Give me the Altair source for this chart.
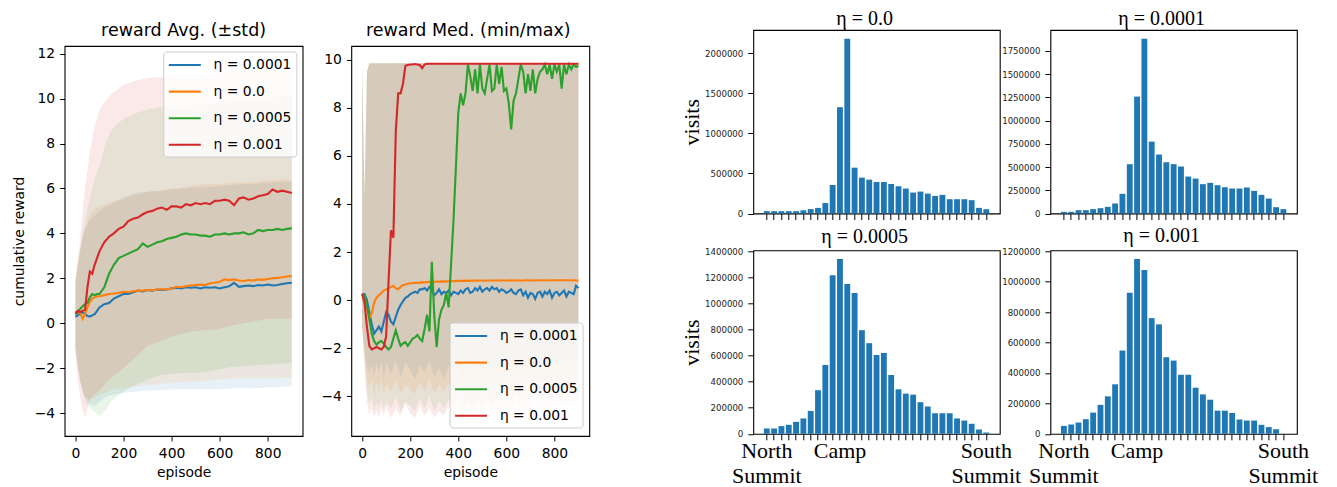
import altair as alt
import pandas as pd

SERIES = ["η = 0.0001", "η = 0.0", "η = 0.0005", "η = 0.001"]
COLORS = ["#1f77b4", "#ff7f0e", "#2ca02c", "#d62728"]

# ---------------- left panel: average (+/- std) ----------------
avg_ep = [0, 10, 20, 30, 40, 50, 60, 70, 80, 90, 100, 120, 140, 160, 180, 200, 220, 240, 260, 280,
          300, 320, 340, 360, 380, 400, 420, 440, 460, 480, 500, 520, 540, 560, 580, 600, 620, 640,
          660, 680, 700, 720, 740, 760, 780, 800, 820, 840, 860, 880, 900]
avg_blue = [0.28, 0.35, 0.45, 0.48, 0.42, 0.32, 0.30, 0.35, 0.40, 0.55, 0.70, 0.85, 0.90, 1.10, 1.20,
            1.30, 1.30, 1.38, 1.45, 1.42, 1.48, 1.45, 1.50, 1.48, 1.50, 1.55, 1.58, 1.55, 1.60, 1.58,
            1.60, 1.55, 1.60, 1.58, 1.60, 1.55, 1.60, 1.65, 1.80, 1.62, 1.65, 1.68, 1.65, 1.70, 1.68,
            1.72, 1.68, 1.70, 1.75, 1.78, 1.80]
avg_orange = [0.40, 0.50, 0.45, 0.20, 0.40, 0.70, 0.95, 1.10, 1.15, 1.20, 1.20, 1.25, 1.30, 1.32, 1.35,
              1.40, 1.38, 1.42, 1.45, 1.45, 1.48, 1.47, 1.50, 1.52, 1.50, 1.55, 1.62, 1.60, 1.65, 1.68,
              1.70, 1.72, 1.70, 1.78, 1.80, 1.85, 1.95, 1.92, 1.95, 1.90, 1.88, 1.92, 1.90, 1.95, 1.93,
              1.97, 2.00, 2.02, 2.05, 2.08, 2.10]
avg_green = [0.40, 0.50, 0.65, 0.75, 0.85, 0.90, 1.15, 1.30, 1.25, 1.30, 1.30, 1.60, 2.20, 2.60, 2.90,
             3.00, 3.10, 3.20, 3.30, 3.55, 3.40, 3.50, 3.60, 3.65, 3.75, 3.80, 3.85, 3.95, 4.00, 3.95,
             3.95, 3.90, 3.90, 3.85, 3.95, 3.95, 4.00, 3.95, 4.00, 4.00, 4.05, 3.95, 4.00, 4.15, 4.10,
             4.15, 4.15, 4.20, 4.15, 4.20, 4.22]
avg_red = [0.45, 0.55, 0.50, 0.55, 0.60, 1.60, 2.30, 2.20, 2.60, 2.90, 3.20, 3.60, 3.85, 4.00, 4.20,
           4.30, 4.55, 4.65, 4.70, 4.85, 4.95, 5.00, 5.10, 5.15, 5.05, 5.20, 5.20, 5.15, 5.30, 5.25,
           5.35, 5.30, 5.35, 5.30, 5.45, 5.45, 5.50, 5.45, 5.25, 5.55, 5.60, 5.50, 5.55, 5.65, 5.70,
           5.75, 5.95, 5.85, 5.90, 5.85, 5.80]

band_ep = [0, 10, 20, 30, 40, 60, 80, 100, 125, 150, 200, 250, 300, 350, 400, 450, 500, 550, 600,
           650, 700, 750, 800, 850, 900]
blue_hi = [1.8, 2.6, 3.3, 3.8, 4.2, 4.6, 4.8, 5.0, 5.2, 5.3, 5.6, 5.8, 5.85, 5.9, 5.95, 6.0, 6.05,
           6.05, 6.1, 6.15, 6.2, 6.2, 6.25, 6.3, 6.3]
blue_lo = [-1.2, -2.0, -2.6, -3.0, -3.3, -3.6, -3.7, -3.5, -3.3, -3.2, -3.1, -3.05, -3.0, -3.0, -2.95,
           -2.95, -2.95, -2.95, -2.95, -2.9, -2.9, -2.9, -2.85, -2.85, -2.8]
orange_hi = [2.0, 2.8, 3.3, 3.8, 4.2, 4.8, 5.1, 5.2, 5.3, 5.4, 5.55, 5.7, 5.85, 5.9, 6.0, 6.05, 6.15,
             6.2, 6.2, 6.25, 6.25, 6.3, 6.35, 6.4, 6.4]
orange_lo = [-1.2, -2.0, -2.6, -3.0, -3.3, -3.4, -3.3, -3.2, -3.1, -2.95, -2.9, -2.8, -2.75, -2.7,
             -2.65, -2.6, -2.6, -2.55, -2.5, -2.45, -2.45, -2.45, -2.45, -2.45, -2.44]
green_hi = [1.8, 2.5, 3.2, 4.0, 4.6, 5.6, 6.4, 7.0, 8.0, 8.6, 9.1, 9.35, 9.5, 9.6, 9.65, 9.65, 9.7,
            9.75, 9.85, 9.9, 9.95, 10.0, 10.05, 10.1, 10.2]
green_lo = [-1.0, -1.8, -2.5, -3.0, -3.5, -3.8, -3.95, -4.15, -3.9, -3.45, -3.05, -2.75, -2.5, -2.3,
            -2.25, -2.2, -2.2, -2.15, -2.05, -1.95, -1.92, -1.87, -1.83, -1.8, -1.77]
red_hi = [1.8, 2.8, 3.8, 5.0, 6.0, 7.6, 8.8, 9.5, 9.9, 10.2, 10.6, 10.8, 10.9, 10.95, 11.0, 11.0,
          11.05, 11.1, 11.15, 11.2, 11.2, 11.25, 11.3, 11.35, 11.4]
red_lo = [-1.2, -2.5, -3.3, -3.9, -4.2, -3.4, -3.2, -3.0, -2.7, -2.4, -2.0, -1.5, -1.0, -0.8, -0.6,
          -0.45, -0.35, -0.3, -0.25, -0.1, 0.0, 0.1, 0.2, 0.2, 0.2]

# ---------------- middle panel: median (min/max) ----------------
med_ep = [0, 10, 20, 30, 40, 50, 60, 70, 80, 90, 100, 110, 120, 130, 140, 150, 160, 170, 180, 190,
          200, 210, 220, 230, 240, 250, 260, 270, 280, 290, 300, 310, 320, 330, 340, 350, 360, 370,
          380, 390, 400, 410, 420, 430, 440, 450, 460, 470, 480, 490, 500, 510, 520, 530, 540, 550,
          560, 570, 580, 590, 600, 610, 620, 630, 640, 650, 660, 670, 680, 690, 700, 710, 720, 730,
          740, 750, 760, 770, 780, 790, 800, 810, 820, 830, 840, 850, 860, 870, 880, 890, 900]
med_blue = [0.25, 0.25, 0.0, -0.5, -1.0, -1.4, -1.25, -1.1, -1.3, -0.9, -0.5, -0.6, -0.9, -1.0, -0.7,
            -0.4, -0.2, -0.05, 0.1, 0.15, 0.25, 0.3, 0.35, 0.3, 0.45, 0.45, 0.5, 0.4, 0.55, 0.45,
            0.2, 0.3, 0.45, 0.25, 0.35, 0.3, 0.4, 0.2, 0.35, 0.3, 0.25, 0.4, 0.3, 0.45, 0.5, 0.3,
            0.35, 0.5, 0.4, 0.55, 0.35, 0.45, 0.5, 0.4, 0.55, 0.45, 0.5, 0.35, 0.45, 0.4, 0.3, 0.35,
            0.45, 0.3, 0.25, 0.4, 0.45, 0.2, 0.35, 0.1, 0.3, 0.25, 0.05, 0.3, 0.35, 0.15, 0.35, 0.25,
            0.4, 0.1, 0.3, 0.35, 0.2, 0.3, 0.4, 0.15, 0.35, 0.3, 0.25, 0.6, 0.5]
med_orange = [0.25, 0.1, -0.3, -0.75, -0.55, -0.1, 0.1, 0.2, 0.3, 0.4, 0.45, 0.5, 0.55, 0.6, 0.5,
              0.45, 0.55, 0.62, 0.65, 0.68, 0.7, 0.7, 0.72, 0.72, 0.73, 0.75, 0.74, 0.75, 0.76, 0.75,
              0.76, 0.77, 0.77, 0.78, 0.77, 0.78, 0.78, 0.79, 0.79, 0.79, 0.8, 0.8, 0.8, 0.8, 0.81,
              0.8, 0.81, 0.81, 0.81, 0.82, 0.82, 0.81, 0.82, 0.82, 0.82, 0.82, 0.82, 0.82, 0.83, 0.82,
              0.82, 0.82, 0.83, 0.82, 0.82, 0.83, 0.82, 0.82, 0.83, 0.83, 0.82, 0.83, 0.82, 0.83,
              0.83, 0.83, 0.82, 0.83, 0.83, 0.83, 0.83, 0.83, 0.83, 0.83, 0.83, 0.83, 0.83, 0.83,
              0.83, 0.82, 0.82]
med_green = [0.25, 0.2, -0.2, -0.8, -1.4, -1.7, -1.85, -1.75, -1.7, -1.8, -1.95, -2.05, -1.95, -1.6,
             -1.25, -1.6, -1.9, -1.8, -1.75, -1.9, -1.75, -1.6, -1.55, -1.45, -1.6, -1.7, -1.2, -0.6,
             -1.3, 1.6, -0.6, -1.95, -0.8, -0.4, -0.2, 0.3, -0.3, 1.5, 3.3, 5.5, 7.8, 8.6, 8.1, 8.6,
             9.8, 9.3, 8.7, 9.6, 8.6, 9.8, 8.8, 8.6, 9.2, 9.8, 8.7, 8.8, 9.8, 9.0, 9.7, 8.7, 8.8, 8.2,
             7.1, 8.3, 8.6, 9.2, 9.8, 9.5, 8.6, 9.4, 8.7, 9.6, 8.6, 9.2, 9.5, 9.6, 9.8, 9.4, 9.8, 9.2,
             9.8, 9.5, 9.8, 8.8, 9.8, 9.4, 9.8, 9.6, 9.8, 9.7, 9.75]
med_red = [0.25, -0.1, -1.1, -1.9, -2.05, -2.0, -1.95, -2.0, -2.05, -1.95, -1.5, 0.8, 2.9, 2.6, 7.0,
           8.6, 8.6, 9.0, 9.75, 9.78, 9.8, 9.8, 9.82, 9.8, 9.78, 9.65, 9.8, 9.83, 9.83, 9.83, 9.83,
           9.83, 9.83, 9.83, 9.83, 9.83, 9.83, 9.83, 9.83, 9.83, 9.83, 9.83, 9.83, 9.83, 9.83, 9.83,
           9.83, 9.83, 9.83, 9.83, 9.83, 9.83, 9.83, 9.83, 9.83, 9.83, 9.83, 9.83, 9.83, 9.83, 9.83,
           9.83, 9.83, 9.83, 9.83, 9.83, 9.83, 9.83, 9.83, 9.83, 9.83, 9.83, 9.83, 9.83, 9.83, 9.83,
           9.83, 9.83, 9.83, 9.83, 9.83, 9.83, 9.83, 9.83, 9.83, 9.83, 9.83, 9.83, 9.83, 9.83, 9.83]

mm_ep = [0, 10, 20, 30, 40, 50, 60, 70, 80, 90, 100, 120, 140, 160, 180, 200, 220, 240, 260, 280,
         300, 320, 340, 360, 380, 400, 420, 440, 460, 480, 500, 520, 540, 560, 580, 600, 620, 640,
         660, 680, 700, 720, 740, 760, 780, 800, 820, 840, 860, 880, 900]
mm_max = [9.7, 4.3, 9.5, 9.85, 9.85, 9.85, 9.85, 9.85, 9.85, 9.85, 9.85, 9.85, 9.85, 9.85, 9.85,
          9.85, 9.85, 9.85, 9.85, 9.85, 9.85, 9.85, 9.85, 9.85, 9.85, 9.85, 9.85, 9.85, 9.85, 9.85,
          9.85, 9.85, 9.85, 9.85, 9.85, 9.85, 9.85, 9.85, 9.85, 9.85, 9.85, 9.85, 9.85, 9.85, 9.85,
          9.85, 9.85, 9.85, 9.85, 9.85, 9.85]
min_blue = [-1.1, -2.0, -2.8, -3.0, -2.7, -3.2, -2.6, -3.0, -2.5, -3.3, -2.6, -3.1, -2.5, -3.2, -2.6,
            -2.9, -3.3, -2.7, -3.0, -2.5, -3.2, -2.8, -3.3, -2.7, -3.0, -2.6, -3.1, -2.8, -3.0, -2.7,
            -2.9, -2.6, -3.0, -2.7, -2.9, -2.6, -2.8, -2.5, -2.9, -2.6, -2.8, -2.5, -2.7, -2.6, -2.8,
            -2.5, -2.7, -2.4, -2.6, -2.5, -2.6]
min_orange = [-1.1, -2.3, -3.3, -3.6, -3.2, -3.9, -3.4, -3.8, -3.3, -3.9, -3.5, -3.8, -3.3, -3.9,
              -3.5, -3.7, -3.9, -3.4, -3.8, -3.3, -3.9, -3.5, -3.8, -3.4, -3.7, -3.3, -3.8, -3.5,
              -3.7, -3.4, -3.6, -3.3, -3.7, -3.4, -3.6, -3.3, -3.5, -3.2, -3.6, -3.3, -3.5, -3.2,
              -3.4, -3.3, -3.5, -3.2, -3.4, -3.1, -3.3, -3.2, -3.3]
min_green = [-1.1, -2.5, -3.8, -4.3, -4.0, -4.6, -4.2, -4.5, -4.1, -4.6, -4.2, -4.5, -4.0, -4.6, -4.2,
             -4.4, -4.6, -4.1, -4.5, -4.0, -4.6, -4.2, -4.5, -4.1, -4.4, -4.0, -4.5, -4.2, -4.4, -4.1,
             -4.3, -4.0, -4.4, -4.1, -4.3, -4.0, -4.2, -3.9, -4.3, -4.0, -4.2, -3.9, -4.1, -4.0, -4.2,
             -3.9, -4.1, -3.8, -4.0, -3.9, -4.0]
min_red = [-1.1, -2.8, -4.2, -4.8, -4.5, -4.9, -4.6, -4.9, -4.5, -4.8, -4.4, -4.9, -4.5, -4.8, -4.3,
           -4.7, -4.9, -4.4, -4.8, -4.5, -4.9, -4.6, -4.8, -4.4, -4.9, -4.5, -4.8, -4.6, -4.8, -4.5,
           -4.7, -4.4, -4.8, -4.5, -4.7, -4.4, -4.6, -4.3, -4.7, -4.4, -4.6, -4.3, -4.5, -4.4, -4.6,
           -4.3, -4.5, -4.2, -4.4, -4.3, -4.4]

# ---------------- histograms of visits ----------------
hist_pos = [0, 1, 2, 3, 4, 5, 6, 7, 8, 9, 10, 11, 12, 13, 14, 15, 16, 17, 18, 19, 20, 21, 22, 23, 24,
            25, 26, 27, 28, 29, 30]
hist_00 = [29000, 29000, 29000, 29000, 29000, 40000, 55000, 70000, 130000, 355000, 1325000, 2178000,
           571000, 447000, 422000, 393000, 393000, 368000, 340000, 311000, 261000, 273000, 248000,
           219000, 232000, 178000, 178000, 178000, 166000, 70000, 54000]
hist_0001 = [18000, 18000, 36000, 36000, 47000, 57000, 72000, 108000, 212000, 531000, 1259000, 1882000,
             774000, 635000, 552000, 531000, 506000, 398000, 376000, 316000, 330000, 305000, 283000,
             269000, 269000, 280000, 244000, 201000, 161000, 68000, 47000]
hist_0005 = [41000, 41000, 59000, 69000, 92000, 118000, 176000, 335000, 529000, 1219000, 1344000,
             1152000, 1083000, 797000, 697000, 606000, 621000, 452000, 342000, 309000, 301000, 243000,
             210000, 158000, 158000, 158000, 118000, 102000, 77000, 33000, 10000]
hist_001 = [52000, 61000, 74000, 96000, 139000, 190000, 246000, 325000, 547000, 926000, 1148000,
            1076000, 760000, 719000, 503000, 481000, 388000, 388000, 303000, 259000, 224000, 152000,
            152000, 137000, 94000, 87000, 87000, 59000, 44000, 30000, 0]
hist_titles = ["η = 0.0", "η = 0.0001", "η = 0.0005", "η = 0.001"]
ticks_00 = [0, 500000, 1000000, 1500000, 2000000]
ticks_0001 = [0, 250000, 500000, 750000, 1000000, 1250000, 1500000, 1750000]
ticks_0005 = [0, 200000, 400000, 600000, 800000, 1000000, 1200000, 1400000]
ticks_001 = [0, 200000, 400000, 600000, 800000, 1000000, 1200000]
place_labels = {0: ["North", "Summit"], 10: ["Camp"], 30: ["South", "Summit"]}

# ---------------- build frames ----------------
def long_lines(xs, lists):
    rows = []
    for name, vals in zip(SERIES, lists):
        for x, v in zip(xs, vals):
            rows.append({"episode": x, "value": v, "series": name})
    return pd.DataFrame(rows)


def long_bands(xs, lows, highs):
    rows = []
    for name, lo, hi in zip(SERIES, lows, highs):
        for x, a, b in zip(xs, lo, hi):
            rows.append({"episode": x, "lo": a, "hi": b, "series": name})
    return pd.DataFrame(rows)


avg_lines = long_lines(avg_ep, [avg_blue, avg_orange, avg_green, avg_red])
avg_bands = long_bands(band_ep, [blue_lo, orange_lo, green_lo, red_lo],
                       [blue_hi, orange_hi, green_hi, red_hi])
med_lines = long_lines(med_ep, [med_blue, med_orange, med_green, med_red])
med_bands = long_bands(mm_ep, [min_blue, min_orange, min_green, min_red],
                       [mm_max, mm_max, mm_max, mm_max])

cscale = alt.Scale(domain=SERIES, range=COLORS)


def line_panel(title, dx, lines_df, bands_df, ydom, yvals, ytitle, lx, ly):
    xenc = alt.X("episode:Q", scale=alt.Scale(domain=[-45, 945], nice=False, zero=False),
                 axis=alt.Axis(values=[0, 200, 400, 600, 800], title="episode", grid=False,
                               domain=False, tickSize=4.9, tickColor="black", tickWidth=1,
                               labelFont="DejaVu Sans", labelFontSize=13.9, labelColor="black",
                               labelPadding=6, titleFont="DejaVu Sans", titleFontSize=13.9,
                               titleFontWeight="normal", titleColor="black", titlePadding=5))
    yscale = alt.Scale(domain=ydom, nice=False, zero=False)
    yaxis = alt.Axis(values=yvals, title=ytitle, grid=False, domain=False, tickSize=4.9,
                     tickColor="black", tickWidth=1, labelFont="DejaVu Sans", labelFontSize=13.9,
                     labelColor="black", labelPadding=5, titleFont="DejaVu Sans",
                     titleFontSize=13.9, titleFontWeight="normal", titleColor="black",
                     titlePadding=8)
    bands = [
        alt.Chart(bands_df).transform_filter(alt.datum.series == name)
        .mark_area(opacity=0.1, color=col)
        .encode(x=xenc, y=alt.Y("lo:Q", scale=yscale, axis=yaxis), y2="hi:Q")
        for name, col in zip(SERIES, COLORS)
    ]
    lines = alt.Chart(lines_df).mark_line(strokeWidth=2.1).encode(
        x=xenc,
        y=alt.Y("value:Q", scale=yscale, axis=yaxis),
        color=alt.Color("series:N", scale=cscale,
                        legend=alt.Legend(title=None, orient="none", legendX=lx, legendY=ly,
                                          symbolType="M-2,0H2", symbolSize=256, symbolOffset=8,
                                          symbolStrokeWidth=2.1, labelFont="DejaVu Sans",
                                          labelFontSize=13.9, labelColor="black", labelOffset=19.3,
                                          rowPadding=9.6, padding=4,
                                          fillColor="rgba(255,255,255,0.8)",
                                          strokeColor="#cccccc", cornerRadius=3)),
    )
    return alt.layer(*bands, lines).properties(
        width=238, height=390,
        title=alt.TitleParams(text=title, font="DejaVu Sans", fontSize=17.5, fontWeight="normal",
                              color="black", offset=7, frame="group", dx=dx),
    )


label_expr = " : ".join(
    f"datum.value == {k} ? [{', '.join(repr(s) for s in v)}]" for k, v in place_labels.items()
) + " : ''"
# one empty category on each side reproduces the wide outer margin of the bar axis
x_domain = [hist_pos[0] - 1] + hist_pos + [hist_pos[-1] + 1]


def hist_panel(vals, title, yvals, show_labels, show_ytitle):
    df = pd.DataFrame({"pos": hist_pos, "visits": vals})
    ymax = max(vals) * 1.05
    xaxis = alt.Axis(title=None, values=hist_pos, labels=show_labels, labelExpr=label_expr,
                     labelAngle=0, grid=False, domain=False, tickSize=6, tickColor="black",
                     tickWidth=1, labelFont="Liberation Serif", labelFontSize=22,
                     labelColor="black", labelLineHeight=25, labelPadding=1, labelBaseline="top",
                     labelOverlap=False, labelLimit=0)
    yaxis = alt.Axis(values=yvals, format="d", grid=False, domain=False, tickSize=5.5,
                     tickColor="black", tickWidth=1, labelFont="DejaVu Sans", labelFontSize=8.6,
                     labelColor="#222222", labelPadding=5,
                     title="visits" if show_ytitle else None, titleFont="Liberation Serif",
                     titleFontSize=22, titleFontWeight="normal", titleColor="black",
                     titlePadding=1)
    return alt.Chart(df).mark_bar(color="#1f77b4").encode(
        x=alt.X("pos:O", scale=alt.Scale(domain=x_domain, paddingInner=0.2, paddingOuter=0.445),
                axis=xaxis),
        y=alt.Y("visits:Q", scale=alt.Scale(domain=[0, ymax], nice=False, zero=True), axis=yaxis),
    ).properties(
        width=246.5, height=183.5,
        title=alt.TitleParams(text=title, font="Liberation Serif", fontSize=20, fontWeight="normal",
                              color="black", offset=1, frame="group", dx=-12),
    )


left = line_panel("reward Avg. (±std)", 0, avg_lines, avg_bands, [-5.02, 12.34],
                  [-4, -2, 0, 2, 4, 6, 8, 10, 12], "cumulative reward", 98.7, 5.5)
mid = line_panel("reward Med. (min/max)", -2, med_lines, med_bands, [-5.65, 10.57],
                 [-4, -2, 0, 2, 4, 6, 8, 10], None, 98.3, 276.5)

spacer = alt.Chart(pd.DataFrame({"s": [0]})).mark_point(opacity=0).properties(
    width=1, height=1, view=alt.ViewBackground(stroke="transparent"))

lines_row = alt.hconcat(left, mid, spacing=48.7, bounds="flush").resolve_scale(
    color="independent").resolve_legend(color="independent")
left_block = alt.vconcat(spacer, lines_row, spacing=15, bounds="flush")

h1 = hist_panel(hist_00, hist_titles[0], ticks_00, False, True)
h2 = hist_panel(hist_0001, hist_titles[1], ticks_0001, False, False)
h3 = hist_panel(hist_0005, hist_titles[2], ticks_0005, True, True)
h4 = hist_panel(hist_001, hist_titles[3], ticks_001, True, False)
right_block = alt.vconcat(
    alt.hconcat(h1, h2, spacing=50.1, bounds="flush"),
    alt.hconcat(h3, h4, spacing=50.1, bounds="flush"),
    spacing=220.3, bounds="flush")

chart = alt.hconcat(left_block, right_block, spacing=688.7, bounds="flush").properties(
    padding={"left": 3.6, "top": 0, "right": 0, "bottom": 0}
).configure_view(stroke="black", strokeWidth=1.1)

chart.save("out.html", embed_options={"renderer": "svg", "actions": False})
